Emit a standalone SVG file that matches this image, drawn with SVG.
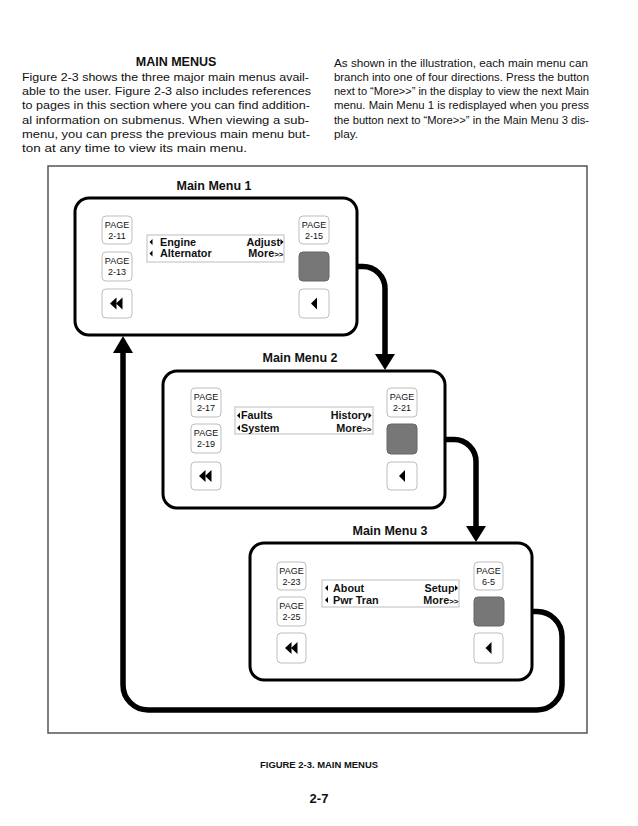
<svg xmlns="http://www.w3.org/2000/svg" width="638" height="826" viewBox="0 0 638 826">
<style>
text{font-family:"Liberation Sans",Arial,sans-serif;fill:#111}
.p{font-size:11.5px}
.h{font-size:12.5px;font-weight:bold}
.lbl{font-size:12.5px;font-weight:bold;text-anchor:middle}
.box{fill:#fff;stroke:#000;stroke-width:3}
.btn{fill:#fff;stroke:#bdbdbd;stroke-width:1}
.gray{fill:#777;stroke:#666;stroke-width:1}
.disp{fill:#fff;stroke:#bdbdbd;stroke-width:1}
.pg{font-size:9px;text-anchor:middle}
.dt{font-size:10.8px;font-weight:bold}
.end{text-anchor:end}
.sm{font-size:8px}
.ico{fill:#000}
.con{fill:none;stroke:#000;stroke-width:5.5}
.frame{fill:none;stroke:#555;stroke-width:1.5}
</style>

<g id="header">
<text class="h" x="176" y="66" text-anchor="middle">MAIN MENUS</text>
<text class="p" x="22" y="81" textLength="287" lengthAdjust="spacingAndGlyphs">Figure 2-3 shows the three major main menus avail-</text>
<text class="p" x="22" y="95.2" textLength="289" lengthAdjust="spacingAndGlyphs">able to the user. Figure 2-3 also includes references</text>
<text class="p" x="22" y="109.4" textLength="288" lengthAdjust="spacingAndGlyphs">to pages in this section where you can find addition-</text>
<text class="p" x="22" y="123.6" textLength="287" lengthAdjust="spacingAndGlyphs">al information on submenus. When viewing a sub-</text>
<text class="p" x="22" y="137.8" textLength="288" lengthAdjust="spacingAndGlyphs">menu, you can press the previous main menu but-</text>
<text class="p" x="22" y="152" textLength="225" lengthAdjust="spacingAndGlyphs">ton at any time to view its main menu.</text>
<text class="p" x="334" y="66.8" textLength="254" lengthAdjust="spacingAndGlyphs">As shown in the illustration, each main menu can</text>
<text class="p" x="334" y="81" textLength="255" lengthAdjust="spacingAndGlyphs">branch into one of four directions. Press the button</text>
<text class="p" x="334" y="95.2" textLength="255" lengthAdjust="spacingAndGlyphs">next to “More&gt;&gt;” in the display to view the next Main</text>
<text class="p" x="334" y="109.4" textLength="255" lengthAdjust="spacingAndGlyphs">menu. Main Menu 1 is redisplayed when you press</text>
<text class="p" x="334" y="123.6" textLength="255" lengthAdjust="spacingAndGlyphs">the button next to “More&gt;&gt;” in the Main Menu 3 dis-</text>
<text class="p" x="334" y="137.8" textLength="24" lengthAdjust="spacingAndGlyphs">play.</text>
</g>

<rect id="frame" class="frame" x="48" y="166" width="539" height="567"/>

<g id="connectors">
<path class="con" d="M329 266.5 H363 A22 22 0 0 1 385 288.5 V356"/>
<polygon class="ico" points="375,354 395,354 385,370"/>
<path class="con" d="M417 439.5 H454 A22 22 0 0 1 476 461.5 V528"/>
<polygon class="ico" points="466,526 486,526 476,542"/>
<path class="con" d="M504 611.5 H537 A25 25 0 0 1 562 636.5 V685 A25 25 0 0 1 537 710 H148 A25 25 0 0 1 123 685 V352"/>
<polygon class="ico" points="113,353 133,353 123,336"/>
</g>

<g id="menu1">
<text class="lbl" x="214" y="190">Main Menu 1</text>
<g transform="translate(75,198)">
<rect class="box" x="0" y="0" width="282" height="137" rx="14"/>
<rect class="btn" x="27" y="18" width="30" height="28" rx="4"/>
<text class="pg" x="42" y="30">PAGE</text><text class="pg" x="42" y="41">2-11</text>
<rect class="btn" x="27" y="54" width="30" height="29" rx="4"/>
<text class="pg" x="42" y="66">PAGE</text><text class="pg" x="42" y="77">2-13</text>
<rect class="btn" x="27" y="91" width="30" height="29" rx="4"/>
<polygon class="ico" points="35,105.5 41.5,99.5 41.5,111.5"/><polygon class="ico" points="41,105.5 47.5,99.5 47.5,111.5"/>
<rect class="btn" x="224" y="18" width="30" height="28" rx="4"/>
<text class="pg" x="239" y="30">PAGE</text><text class="pg" x="239" y="41">2-15</text>
<rect class="gray" x="224" y="54" width="30" height="29" rx="4"/>
<rect class="btn" x="224" y="91" width="30" height="29" rx="4"/>
<polygon class="ico" points="236,105.5 242,99.5 242,111.5"/>
<rect class="disp" x="72" y="37" width="137" height="27"/>
<polygon class="ico" points="74.5,44 77.5,41 77.5,47"/>
<polygon class="ico" points="74.5,55.5 77.5,52.5 77.5,58.5"/>
<text class="dt" x="85" y="47.7">Engine</text>
<text class="dt" x="85" y="59.3">Alternator</text>
<text class="dt end" x="205" y="47.7">Adjust</text>
<polygon class="ico" points="205.5,41 208.5,44 205.5,47"/>
<text class="dt end" x="208.5" y="59.3">More<tspan class="sm">&gt;&gt;</tspan></text>
</g>
</g>

<g id="menu2">
<text class="lbl" x="300" y="362">Main Menu 2</text>
<g transform="translate(163,371)">
<rect class="box" x="0" y="0" width="282" height="137" rx="14"/>
<rect class="btn" x="28" y="17" width="30" height="29" rx="4"/>
<text class="pg" x="43" y="29">PAGE</text><text class="pg" x="43" y="40">2-17</text>
<rect class="btn" x="28" y="53" width="30" height="29" rx="4"/>
<text class="pg" x="43" y="65">PAGE</text><text class="pg" x="43" y="76">2-19</text>
<rect class="btn" x="28" y="91" width="30" height="28" rx="4"/>
<polygon class="ico" points="36,105 42.5,99 42.5,111"/><polygon class="ico" points="42,105 48.5,99 48.5,111"/>
<rect class="btn" x="224" y="17" width="30" height="29" rx="4"/>
<text class="pg" x="239" y="29">PAGE</text><text class="pg" x="239" y="40">2-21</text>
<rect class="gray" x="224" y="53" width="30" height="30" rx="4"/>
<rect class="btn" x="224" y="91" width="30" height="28" rx="4"/>
<polygon class="ico" points="236,105 242,99 242,111"/>
<rect class="disp" x="72" y="36" width="138" height="27"/>
<polygon class="ico" points="74,44.5 77,41.5 77,47.5"/>
<polygon class="ico" points="74,57 77,54 77,60"/>
<text class="dt" x="78" y="48">Faults</text>
<text class="dt" x="78" y="60.5">System</text>
<text class="dt end" x="205" y="48">History</text>
<polygon class="ico" points="205.5,41.5 208.5,44.5 205.5,47.5"/>
<text class="dt end" x="208.5" y="60.5">More<tspan class="sm">&gt;&gt;</tspan></text>
</g>
</g>

<g id="menu3">
<text class="lbl" x="390" y="535">Main Menu 3</text>
<g transform="translate(250,543)">
<rect class="box" x="0" y="0" width="282" height="137" rx="14"/>
<rect class="btn" x="27" y="19" width="29" height="28" rx="4"/>
<text class="pg" x="41.5" y="31">PAGE</text><text class="pg" x="41.5" y="42">2-23</text>
<rect class="btn" x="27" y="54" width="29" height="29" rx="4"/>
<text class="pg" x="41.5" y="66">PAGE</text><text class="pg" x="41.5" y="77">2-25</text>
<rect class="btn" x="27" y="90" width="29" height="30" rx="4"/>
<polygon class="ico" points="35,105 41.5,99 41.5,111"/><polygon class="ico" points="41,105 47.5,99 47.5,111"/>
<rect class="btn" x="224" y="19" width="29" height="28" rx="4"/>
<text class="pg" x="238.5" y="31">PAGE</text><text class="pg" x="238.5" y="42">6-5</text>
<rect class="gray" x="224" y="54" width="30" height="29" rx="4"/>
<rect class="btn" x="224" y="90" width="29" height="30" rx="4"/>
<polygon class="ico" points="235.5,105 241.5,99 241.5,111"/>
<rect class="disp" x="72" y="37" width="137" height="27"/>
<polygon class="ico" points="75,45 78,42 78,48"/>
<polygon class="ico" points="75,57 78,54 78,60"/>
<text class="dt" x="83" y="48.5">About</text>
<text class="dt" x="83" y="60.5">Pwr Tran</text>
<text class="dt end" x="204.5" y="48.5">Setup</text>
<polygon class="ico" points="205,42 208,45 205,48"/>
<text class="dt end" x="208.5" y="60.5">More<tspan class="sm">&gt;&gt;</tspan></text>
</g>
</g>

<g id="caption">
<text x="319" y="768" text-anchor="middle" font-size="9" font-weight="bold" textLength="118" lengthAdjust="spacingAndGlyphs">FIGURE 2-3. MAIN MENUS</text>
<text x="319" y="803" text-anchor="middle" font-size="13" font-weight="bold">2-7</text>
</g>
</svg>
